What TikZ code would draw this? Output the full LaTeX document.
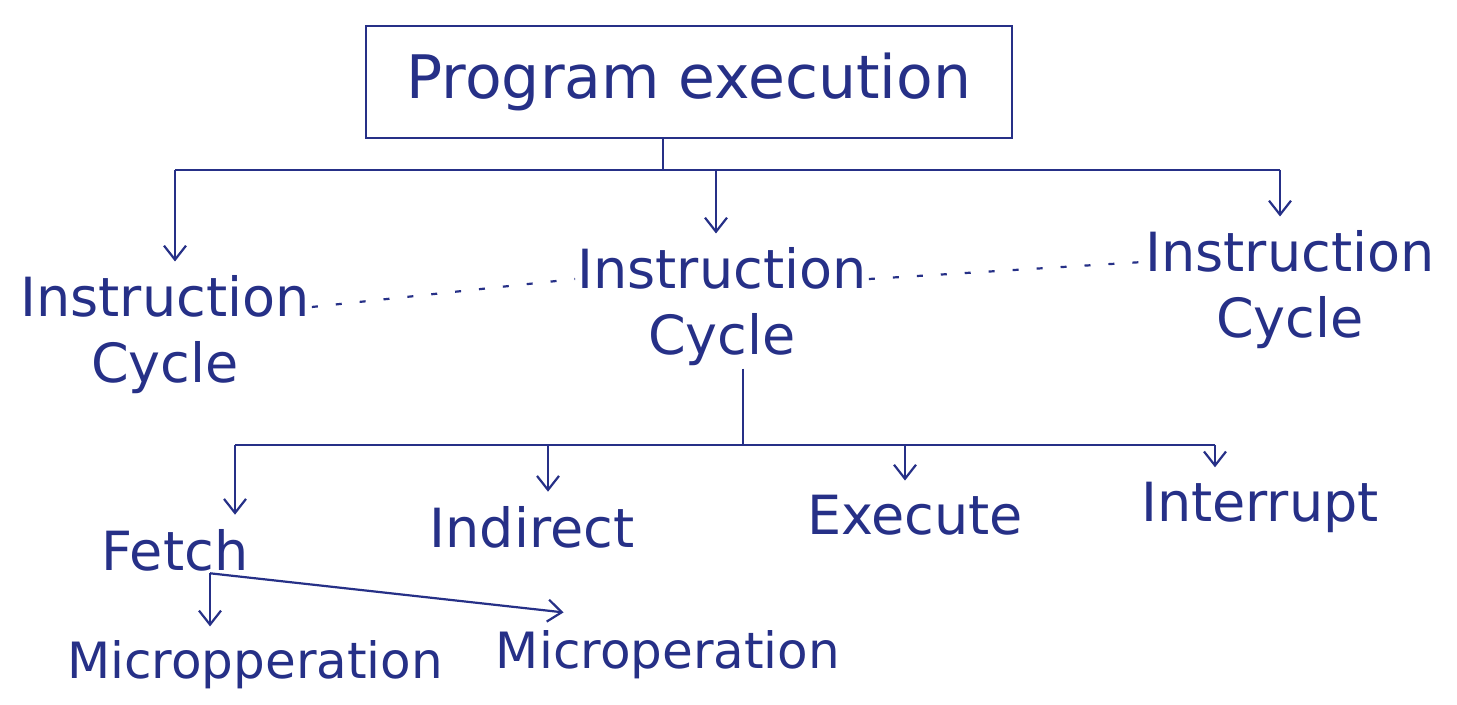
\documentclass[tikz,border=0pt]{standalone}
\usepackage{fontspec}
\setmainfont{DejaVu Sans}
\usetikzlibrary{arrows.meta,calc}
\definecolor{ink}{RGB}{38,48,135}
\begin{document}
\begin{tikzpicture}[x=0.5pt,y=-0.5pt,
  inkline/.style={draw=ink,line width=1.1pt},
  arr/.style={inkline,-{Straight Barb[length=7pt,width=11pt,line width=1.1pt]}},
  lbl/.style={text=ink,font=\fontsize{27}{33}\selectfont,align=center,inner sep=1pt},
  smalllbl/.style={lbl,font=\fontsize{25}{30}\selectfont},
  titlebox/.style={lbl,font=\fontsize{30}{36}\selectfont,draw=ink,line width=1.1pt,
    minimum width=323pt,minimum height=56pt},
  dots/.style={draw=ink,line width=1.1pt,dash pattern=on 3pt off 9pt},
]
\useasboundingbox[fill=white] (0,0) rectangle (1457,705);

% top box
\node[titlebox] (prog) at (689,82) {Program execution};

% level 1
\node[lbl] (ic1) at (165,335) {Instruction\\Cycle};
\node[lbl] (ic2) at (722,307) {Instruction\\Cycle};
\node[lbl] (ic3) at (1290,290) {Instruction\\Cycle};

\coordinate (b1) at (663,170);
\coordinate (b1l) at (175,170);
\coordinate (b1m) at (716,170);
\coordinate (b1r) at (1280,170);
\draw[inkline] (b1 |- prog.south) -- (b1);
\draw[inkline] (b1l) -- (b1r);
\draw[arr,shorten >=6pt] (b1l) -- (b1l |- ic1.north);
\draw[arr,shorten >=6pt] (b1m) -- (b1m |- ic2.north);
\draw[arr,shorten >=6pt] (b1r) -- (b1r |- ic3.north);

\draw[dots] ([yshift=14pt]ic1.east) -- ([yshift=14pt]ic2.west);
\draw[dots] ([yshift=14pt]ic2.east) -- ([yshift=14pt]ic3.west);

% level 2
\node[lbl] (fetch) at (175,550) {Fetch};
\node[lbl] (indirect) at (532,527) {Indirect};
\node[lbl] (execute) at (915,515) {Execute};
\node[lbl] (interrupt) at (1260,507) {Interrupt};

\coordinate (b2) at (743,445);
\coordinate (b2a) at (235,445);
\coordinate (b2b) at (548,445);
\coordinate (b2c) at (905,445);
\coordinate (b2d) at (1215,445);
\draw[inkline] (b2 |- ic2.south) -- (b2);
\draw[inkline] (b2a) -- (b2d);
\draw[arr,shorten >=6pt] (b2a) -- (b2a |- fetch.north);
\draw[arr,shorten >=6pt] (b2b) -- (b2b |- indirect.north);
\draw[arr,shorten >=6pt] (b2c) -- (b2c |- execute.north);
\draw[arr,shorten >=6pt] (b2d) -- (b2d |- interrupt.north);

% level 3
\node[smalllbl] (mo1) at (255,665) {Micropperation};
\node[smalllbl] (mo2) at (668,655) {Microperation};

\coordinate (fs) at ($(fetch.south)+(35,0)$);
\draw[arr,shorten >=6pt] (fs) -- (fs |- mo1.north);
\draw[arr] (fs) -- ($(mo2.north west)+(70,-16)$);
\end{tikzpicture}
\end{document}
